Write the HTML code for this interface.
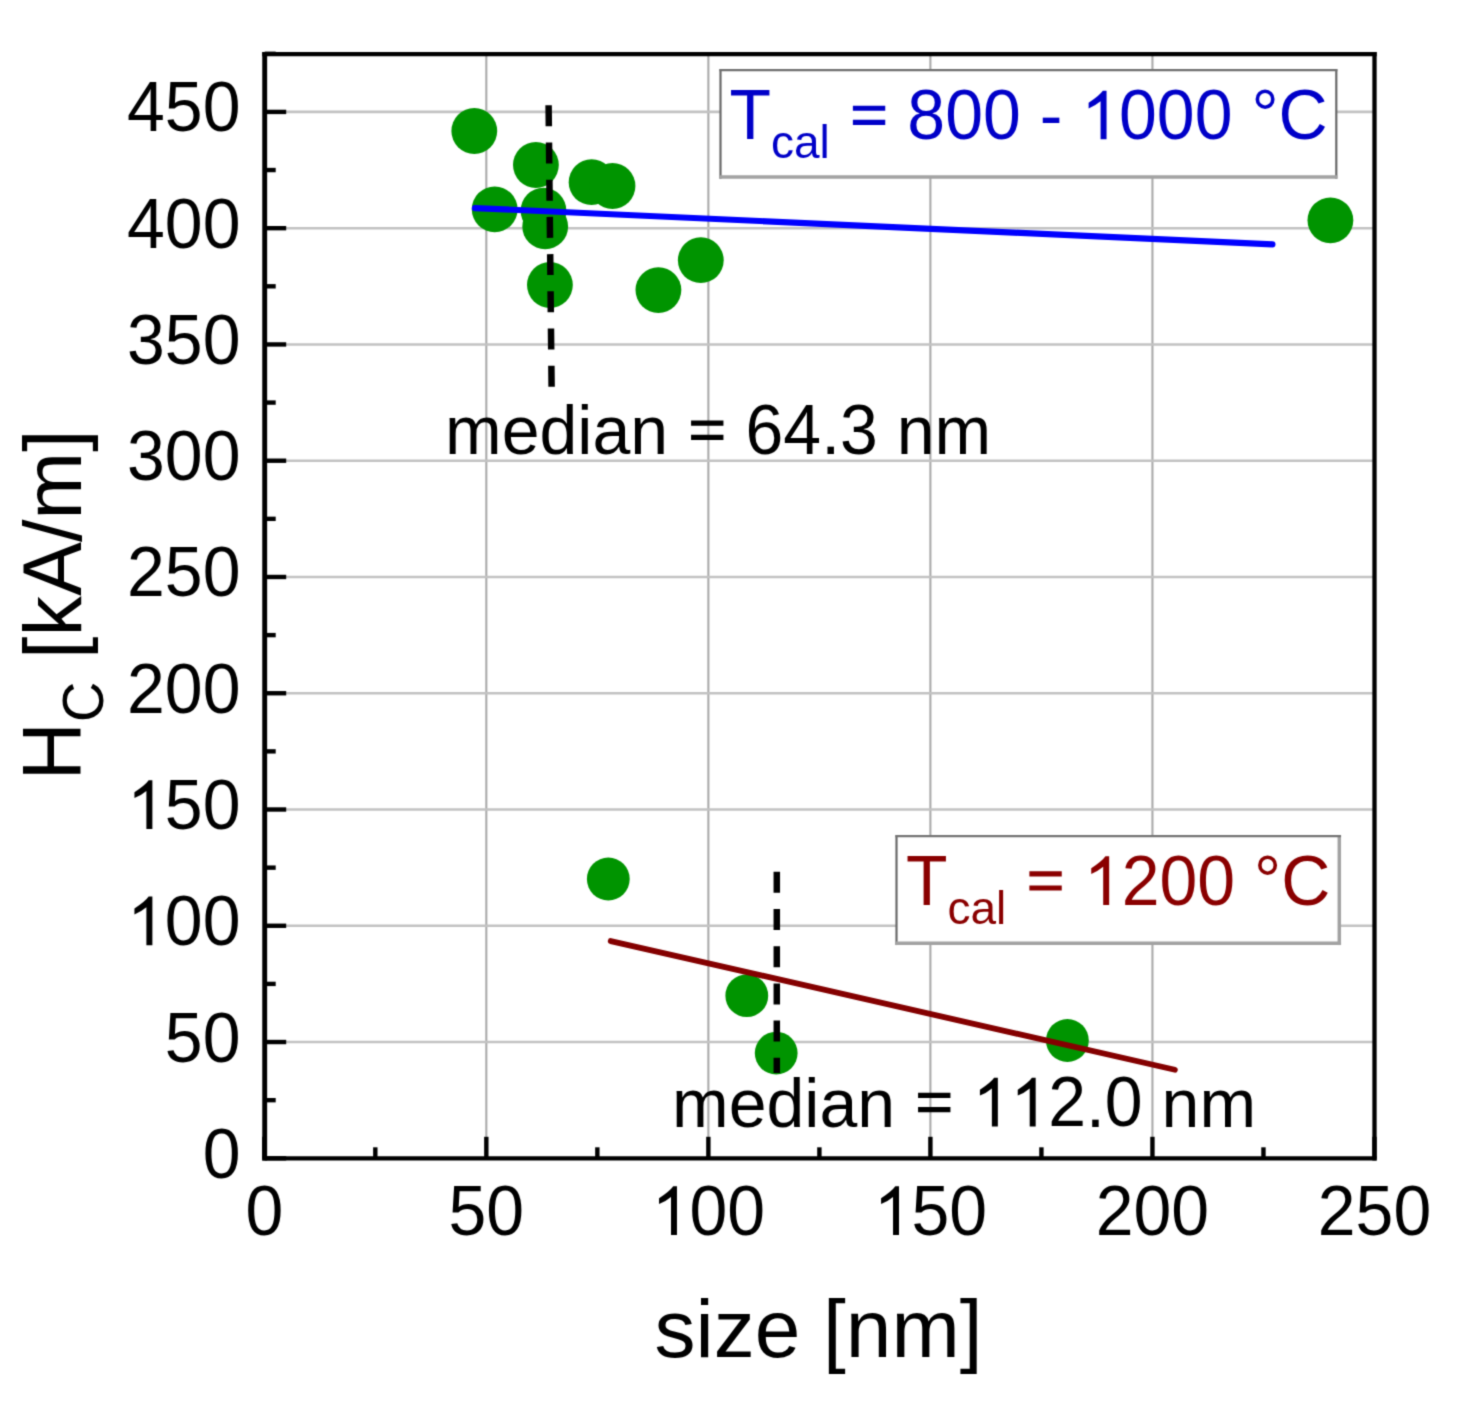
<!DOCTYPE html>
<html><head><meta charset="utf-8"><style>
html,body{margin:0;padding:0;background:#fff;}
svg{display:block;}
text{font-family:"Liberation Sans", sans-serif;font-kerning:none;}
</style></head><body>
<svg width="1472" height="1406" viewBox="0 0 1472 1406">
<defs><filter id="bl" x="0" y="0" width="1" height="1" color-interpolation-filters="sRGB"><feConvolveMatrix order="3" kernelMatrix="0.0277 0.1110 0.0277 0.1110 0.4452 0.1110 0.0277 0.1110 0.0277" edgeMode="duplicate"/></filter></defs>
<rect width="1472" height="1406" fill="#fff"/>
<g filter="url(#bl)">
<rect width="1472" height="1406" fill="#fff"/>
<line x1="486.33" y1="54.10" x2="486.33" y2="1158.30" stroke="#aaaaaa" stroke-width="2.1"/>
<line x1="708.37" y1="54.10" x2="708.37" y2="1158.30" stroke="#aaaaaa" stroke-width="2.1"/>
<line x1="930.40" y1="54.10" x2="930.40" y2="1158.30" stroke="#aaaaaa" stroke-width="2.1"/>
<line x1="1152.44" y1="54.10" x2="1152.44" y2="1158.30" stroke="#aaaaaa" stroke-width="2.1"/>
<line x1="264.70" y1="1158.30" x2="1374.50" y2="1158.30" stroke="#c2c2c2" stroke-width="2.6"/>
<line x1="264.70" y1="1042.03" x2="1374.50" y2="1042.03" stroke="#c2c2c2" stroke-width="2.6"/>
<line x1="264.70" y1="925.77" x2="1374.50" y2="925.77" stroke="#c2c2c2" stroke-width="2.6"/>
<line x1="264.70" y1="809.50" x2="1374.50" y2="809.50" stroke="#c2c2c2" stroke-width="2.6"/>
<line x1="264.70" y1="693.24" x2="1374.50" y2="693.24" stroke="#c2c2c2" stroke-width="2.6"/>
<line x1="264.70" y1="576.98" x2="1374.50" y2="576.98" stroke="#c2c2c2" stroke-width="2.6"/>
<line x1="264.70" y1="460.71" x2="1374.50" y2="460.71" stroke="#c2c2c2" stroke-width="2.6"/>
<line x1="264.70" y1="344.44" x2="1374.50" y2="344.44" stroke="#c2c2c2" stroke-width="2.6"/>
<line x1="264.70" y1="228.18" x2="1374.50" y2="228.18" stroke="#c2c2c2" stroke-width="2.6"/>
<line x1="264.70" y1="111.91" x2="1374.50" y2="111.91" stroke="#c2c2c2" stroke-width="2.6"/>
<rect x="720.5" y="70.2" width="615.80" height="106.80" fill="#fff"/>
<line x1="720.5" y1="69.10" x2="720.5" y2="178.75" stroke="#686868" stroke-width="2.2"/>
<line x1="1336.3" y1="69.10" x2="1336.3" y2="178.75" stroke="#686868" stroke-width="2.2"/>
<line x1="719.40" y1="70.2" x2="1337.40" y2="70.2" stroke="#707070" stroke-width="2.2"/>
<line x1="719.40" y1="177.0" x2="1337.40" y2="177.0" stroke="#a2a2a2" stroke-width="3.5"/>
<rect x="896.5" y="836.2" width="442.80" height="107.10" fill="#fff"/>
<line x1="896.5" y1="835.10" x2="896.5" y2="945.05" stroke="#686868" stroke-width="2.2"/>
<line x1="1339.3" y1="835.10" x2="1339.3" y2="945.05" stroke="#a2a2a2" stroke-width="3.5"/>
<line x1="895.40" y1="836.2" x2="1341.05" y2="836.2" stroke="#747474" stroke-width="2.2"/>
<line x1="895.40" y1="943.3" x2="1341.05" y2="943.3" stroke="#a2a2a2" stroke-width="3.5"/>
<circle cx="474.3" cy="131.0" r="22.9" fill="#009400"/>
<circle cx="535.9" cy="165.0" r="22.9" fill="#009400"/>
<circle cx="494.7" cy="209.3" r="22.9" fill="#009400"/>
<circle cx="543.5" cy="210.7" r="22.9" fill="#009400"/>
<circle cx="545.2" cy="226.4" r="22.9" fill="#009400"/>
<circle cx="591.6" cy="182.2" r="22.9" fill="#009400"/>
<circle cx="612.5" cy="186.0" r="22.9" fill="#009400"/>
<circle cx="549.9" cy="285.0" r="22.9" fill="#009400"/>
<circle cx="658.4" cy="290.1" r="22.9" fill="#009400"/>
<circle cx="700.8" cy="260.2" r="22.9" fill="#009400"/>
<circle cx="1330.4" cy="220.3" r="22.9" fill="#009400"/>
<circle cx="608.3" cy="879.0" r="21.4" fill="#009400"/>
<circle cx="746.8" cy="995.7" r="21.4" fill="#009400"/>
<circle cx="776.2" cy="1053.1" r="21.4" fill="#009400"/>
<circle cx="1067.4" cy="1040.5" r="21.4" fill="#009400"/>
<line x1="474.90" y1="208.04" x2="1272.40" y2="244.36" stroke="#0000ff" stroke-width="6.2" stroke-linecap="round"/>
<line x1="610.73" y1="941.05" x2="1174.87" y2="1069.75" stroke="#840000" stroke-width="5.8" stroke-linecap="round"/>
<line x1="548.6" y1="105.3" x2="551.6" y2="387" stroke="#000" stroke-width="6.5" stroke-dasharray="21 16.2"/>
<line x1="776.8" y1="871.8" x2="776.8" y2="1073" stroke="#000" stroke-width="6.5" stroke-dasharray="21 16.2"/>
<line x1="264.7" y1="51.9" x2="264.7" y2="1160.3999999999999" stroke="#000" stroke-width="4.9"/>
<line x1="1374.5" y1="51.9" x2="1374.5" y2="1160.3999999999999" stroke="#000" stroke-width="4.3"/>
<line x1="262.25" y1="54.1" x2="1376.65" y2="54.1" stroke="#000" stroke-width="4.4"/>
<line x1="262.25" y1="1158.3" x2="1376.65" y2="1158.3" stroke="#000" stroke-width="4.2"/>
<line x1="264.7" y1="1158.30" x2="286.20" y2="1158.30" stroke="#000" stroke-width="4.4"/>
<line x1="264.7" y1="1100.17" x2="275.70" y2="1100.17" stroke="#000" stroke-width="4.4"/>
<line x1="264.7" y1="1042.03" x2="286.20" y2="1042.03" stroke="#000" stroke-width="4.4"/>
<line x1="264.7" y1="983.90" x2="275.70" y2="983.90" stroke="#000" stroke-width="4.4"/>
<line x1="264.7" y1="925.77" x2="286.20" y2="925.77" stroke="#000" stroke-width="4.4"/>
<line x1="264.7" y1="867.64" x2="275.70" y2="867.64" stroke="#000" stroke-width="4.4"/>
<line x1="264.7" y1="809.50" x2="286.20" y2="809.50" stroke="#000" stroke-width="4.4"/>
<line x1="264.7" y1="751.37" x2="275.70" y2="751.37" stroke="#000" stroke-width="4.4"/>
<line x1="264.7" y1="693.24" x2="286.20" y2="693.24" stroke="#000" stroke-width="4.4"/>
<line x1="264.7" y1="635.11" x2="275.70" y2="635.11" stroke="#000" stroke-width="4.4"/>
<line x1="264.7" y1="576.98" x2="286.20" y2="576.98" stroke="#000" stroke-width="4.4"/>
<line x1="264.7" y1="518.84" x2="275.70" y2="518.84" stroke="#000" stroke-width="4.4"/>
<line x1="264.7" y1="460.71" x2="286.20" y2="460.71" stroke="#000" stroke-width="4.4"/>
<line x1="264.7" y1="402.58" x2="275.70" y2="402.58" stroke="#000" stroke-width="4.4"/>
<line x1="264.7" y1="344.44" x2="286.20" y2="344.44" stroke="#000" stroke-width="4.4"/>
<line x1="264.7" y1="286.31" x2="275.70" y2="286.31" stroke="#000" stroke-width="4.4"/>
<line x1="264.7" y1="228.18" x2="286.20" y2="228.18" stroke="#000" stroke-width="4.4"/>
<line x1="264.7" y1="170.05" x2="275.70" y2="170.05" stroke="#000" stroke-width="4.4"/>
<line x1="264.7" y1="111.91" x2="286.20" y2="111.91" stroke="#000" stroke-width="4.4"/>
<line x1="264.7" y1="53.78" x2="275.70" y2="53.78" stroke="#000" stroke-width="4.4"/>
<line x1="264.30" y1="1158.3" x2="264.30" y2="1136.80" stroke="#000" stroke-width="4.4"/>
<line x1="375.32" y1="1158.3" x2="375.32" y2="1147.30" stroke="#000" stroke-width="4.4"/>
<line x1="486.33" y1="1158.3" x2="486.33" y2="1136.80" stroke="#000" stroke-width="4.4"/>
<line x1="597.35" y1="1158.3" x2="597.35" y2="1147.30" stroke="#000" stroke-width="4.4"/>
<line x1="708.37" y1="1158.3" x2="708.37" y2="1136.80" stroke="#000" stroke-width="4.4"/>
<line x1="819.39" y1="1158.3" x2="819.39" y2="1147.30" stroke="#000" stroke-width="4.4"/>
<line x1="930.40" y1="1158.3" x2="930.40" y2="1136.80" stroke="#000" stroke-width="4.4"/>
<line x1="1041.42" y1="1158.3" x2="1041.42" y2="1147.30" stroke="#000" stroke-width="4.4"/>
<line x1="1152.44" y1="1158.3" x2="1152.44" y2="1136.80" stroke="#000" stroke-width="4.4"/>
<line x1="1263.46" y1="1158.3" x2="1263.46" y2="1147.30" stroke="#000" stroke-width="4.4"/>
<line x1="1374.47" y1="1158.3" x2="1374.47" y2="1136.80" stroke="#000" stroke-width="4.4"/>
<text fill="#000" font-size="68" transform="translate(0,1177.80) scale(1,1.0405) translate(0,-1177.80)" x="202.68" y="1177.80">0</text>
<text fill="#000" font-size="68" transform="translate(0,1061.53) scale(1,1.0405) translate(0,-1061.53)" x="164.86 202.68" y="1061.53">50</text>
<path d="M583,0 L763,0 L763,1466 L651,1466 Q560,1330 223,1104 L223,930 Q420,1010 583,1147 Z" fill="#000" transform="translate(127.04,945.27) scale(0.03320,-0.03320)"/>
<text fill="#000" font-size="68" transform="translate(0,945.27) scale(1,1.0405) translate(0,-945.27)" x="164.86 202.68" y="945.27">00</text>
<path d="M583,0 L763,0 L763,1466 L651,1466 Q560,1330 223,1104 L223,930 Q420,1010 583,1147 Z" fill="#000" transform="translate(127.04,829.00) scale(0.03320,-0.03320)"/>
<text fill="#000" font-size="68" transform="translate(0,829.00) scale(1,1.0405) translate(0,-829.00)" x="164.86 202.68" y="829.00">50</text>
<text fill="#000" font-size="68" transform="translate(0,712.74) scale(1,1.0405) translate(0,-712.74)" x="127.04 164.86 202.68" y="712.74">200</text>
<text fill="#000" font-size="68" transform="translate(0,596.48) scale(1,1.0405) translate(0,-596.48)" x="127.04 164.86 202.68" y="596.48">250</text>
<text fill="#000" font-size="68" transform="translate(0,480.21) scale(1,1.0405) translate(0,-480.21)" x="127.04 164.86 202.68" y="480.21">300</text>
<text fill="#000" font-size="68" transform="translate(0,363.94) scale(1,1.0405) translate(0,-363.94)" x="127.04 164.86 202.68" y="363.94">350</text>
<text fill="#000" font-size="68" transform="translate(0,247.68) scale(1,1.0405) translate(0,-247.68)" x="127.04 164.86 202.68" y="247.68">400</text>
<text fill="#000" font-size="68" transform="translate(0,131.41) scale(1,1.0405) translate(0,-131.41)" x="127.04 164.86 202.68" y="131.41">450</text>
<text fill="#000" font-size="68" transform="translate(0,1235.00) scale(1,1.0405) translate(0,-1235.00)" x="245.39" y="1235.00">0</text>
<text fill="#000" font-size="68" transform="translate(0,1235.00) scale(1,1.0405) translate(0,-1235.00)" x="448.52 486.33" y="1235.00">50</text>
<path d="M583,0 L763,0 L763,1466 L651,1466 Q560,1330 223,1104 L223,930 Q420,1010 583,1147 Z" fill="#000" transform="translate(651.64,1235.00) scale(0.03320,-0.03320)"/>
<text fill="#000" font-size="68" transform="translate(0,1235.00) scale(1,1.0405) translate(0,-1235.00)" x="689.46 727.28" y="1235.00">00</text>
<path d="M583,0 L763,0 L763,1466 L651,1466 Q560,1330 223,1104 L223,930 Q420,1010 583,1147 Z" fill="#000" transform="translate(873.68,1235.00) scale(0.03320,-0.03320)"/>
<text fill="#000" font-size="68" transform="translate(0,1235.00) scale(1,1.0405) translate(0,-1235.00)" x="911.50 949.31" y="1235.00">50</text>
<text fill="#000" font-size="68" transform="translate(0,1235.00) scale(1,1.0405) translate(0,-1235.00)" x="1095.71 1133.53 1171.35" y="1235.00">200</text>
<text fill="#000" font-size="68" transform="translate(0,1235.00) scale(1,1.0405) translate(0,-1235.00)" x="1317.75 1355.57 1393.38" y="1235.00">250</text>
<text x="818.5" y="1357" text-anchor="middle" font-size="82">size [nm]</text>
<g transform="translate(80.8,605) rotate(-90)"><text fill="#000" font-size="81" transform="translate(0,0.00) scale(1,1.0405) translate(0,0.00)" x="-175.48" y="0.00">H</text>
<text fill="#000" font-size="56" transform="translate(0,22.00) scale(1,1.0405) translate(0,-22.00)" x="-116.98" y="22.00">C</text>
<text fill="#000" font-size="81" x="-54.04 -31.53 62.99 85.50 152.97" y="0.00">[k/m]</text>
<text fill="#000" font-size="81" transform="translate(0,0.00) scale(1,1.0405) translate(0,0.00)" x="8.97" y="0.00">A</text></g>
<path d="M125,430 L1100,430 L1100,586 L125,586 Z M125,858 L1100,858 L1100,1014 L125,1014 Z" fill="#000" transform="translate(686.92,454.20) scale(0.03320,-0.03320)"/>
<text fill="#000" font-size="68" x="445.00 501.64 539.46 577.28 592.39 630.21 821.16 896.76 934.58" y="454.20">median.nm</text>
<text fill="#000" font-size="68" transform="translate(0,454.20) scale(1,1.0405) translate(0,-454.20)" x="745.52 783.34 840.05" y="454.20">643</text>
<path d="M125,430 L1100,430 L1100,586 L125,586 Z M125,858 L1100,858 L1100,1014 L125,1014 Z" fill="#000" transform="translate(913.92,1126.50) scale(0.03320,-0.03320)"/>
<path d="M583,0 L763,0 L763,1466 L651,1466 Q560,1330 223,1104 L223,930 Q420,1010 583,1147 Z" fill="#000" transform="translate(972.52,1126.50) scale(0.03320,-0.03320)"/>
<path d="M583,0 L763,0 L763,1466 L651,1466 Q560,1330 223,1104 L223,930 Q420,1010 583,1147 Z" fill="#000" transform="translate(1010.34,1126.50) scale(0.03320,-0.03320)"/>
<text fill="#000" font-size="68" x="672.00 728.64 766.46 804.28 819.39 857.21 1085.98 1161.58 1199.40" y="1126.50">median.nm</text>
<text fill="#000" font-size="68" transform="translate(0,1126.50) scale(1,1.0405) translate(0,-1126.50)" x="1048.16 1104.87" y="1126.50">20</text>
<text fill="#0000c8" font-size="68" transform="translate(0,139.30) scale(1,1.0405) translate(0,-139.30)" x="729.50" y="139.30">T</text>
<text fill="#0000c8" font-size="46" x="771.04 794.04 819.62" y="158.40">cal</text>
<path d="M125,430 L1100,430 L1100,586 L125,586 Z M125,858 L1100,858 L1100,1014 L125,1014 Z" fill="#0000c8" transform="translate(848.73,139.30) scale(0.03320,-0.03320)"/>
<path d="M583,0 L763,0 L763,1466 L651,1466 Q560,1330 223,1104 L223,930 Q420,1010 583,1147 Z" fill="#0000c8" transform="translate(1081.22,139.30) scale(0.03320,-0.03320)"/>
<text fill="#0000c8" font-size="68" x="1039.68" y="139.30">-</text>
<text fill="#0000c8" font-size="68" transform="translate(0,139.30) scale(1,1.0405) translate(0,-139.30)" x="907.34 945.15 982.97 1119.04 1156.86 1194.68 1251.39 1278.58" y="139.30">800000°C</text>
<text fill="#8a0000" font-size="68" transform="translate(0,904.90) scale(1,1.0405) translate(0,-904.90)" x="906.00" y="904.90">T</text>
<text fill="#8a0000" font-size="46" x="947.54 970.54 996.12" y="924.00">cal</text>
<path d="M125,430 L1100,430 L1100,586 L125,586 Z M125,858 L1100,858 L1100,1014 L125,1014 Z" fill="#8a0000" transform="translate(1025.23,904.90) scale(0.03320,-0.03320)"/>
<path d="M583,0 L763,0 L763,1466 L651,1466 Q560,1330 223,1104 L223,930 Q420,1010 583,1147 Z" fill="#8a0000" transform="translate(1083.84,904.90) scale(0.03320,-0.03320)"/>
<text fill="#8a0000" font-size="68" transform="translate(0,904.90) scale(1,1.0405) translate(0,-904.90)" x="1121.65 1159.47 1197.29 1254.00 1281.20" y="904.90">200°C</text>
</g>
</svg>
</body></html>
